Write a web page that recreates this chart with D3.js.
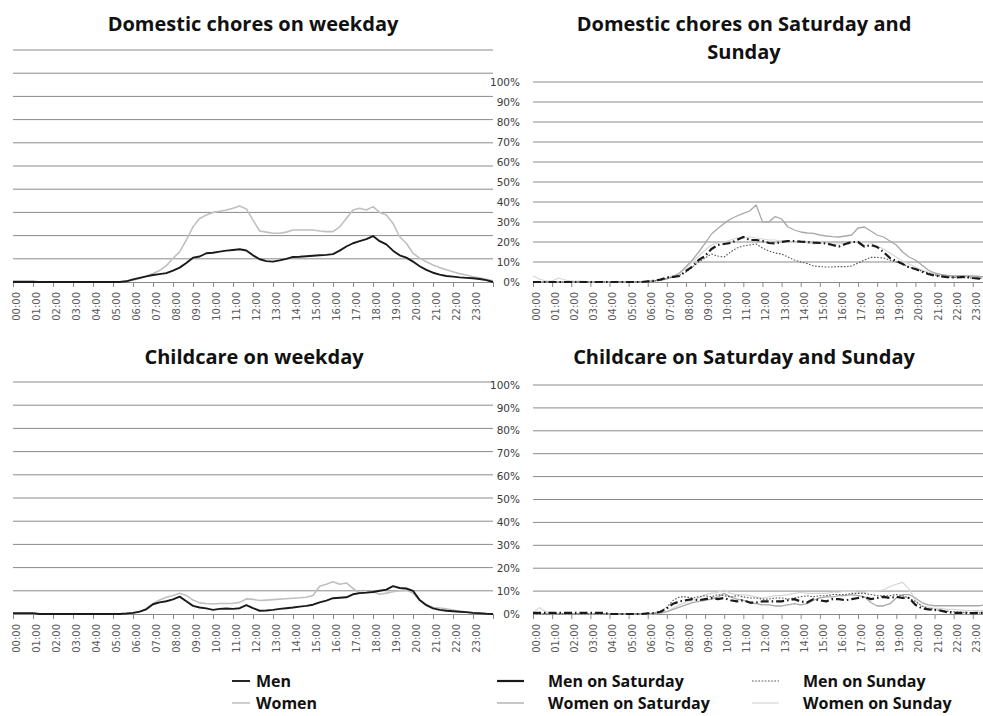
<!DOCTYPE html>
<html>
<head>
<meta charset="utf-8">
<script src="https://cdn.jsdelivr.net/npm/d3@7"></script>
<style>
  body { margin: 0; background: #fff; }
  svg { display: block; }
</style>
</head>
<body>
<svg id="chart" width="983" height="716"></svg>
<script>
// Time of day, one sample every 20 minutes
const slots = [
  "00:00","00:20","00:40","01:00","01:20","01:40","02:00","02:20","02:40",
  "03:00","03:20","03:40","04:00","04:20","04:40","05:00","05:20","05:40",
  "06:00","06:20","06:40","07:00","07:20","07:40","08:00","08:20","08:40",
  "09:00","09:20","09:40","10:00","10:20","10:40","11:00","11:20","11:40",
  "12:00","12:20","12:40","13:00","13:20","13:40","14:00","14:20","14:40",
  "15:00","15:20","15:40","16:00","16:20","16:40","17:00","17:20","17:40",
  "18:00","18:20","18:40","19:00","19:20","19:40","20:00","20:20","20:40",
  "21:00","21:20","21:40","22:00","22:20","22:40","23:00","23:20","23:40","24:00"
];

const hourLabels = [
  "00:00","01:00","02:00","03:00","04:00","05:00","06:00","07:00",
  "08:00","09:00","10:00","11:00","12:00","13:00","14:00","15:00",
  "16:00","17:00","18:00","19:00","20:00","21:00","22:00","23:00"
];

const percentTicks = [0, 10, 20, 30, 40, 50, 60, 70, 80, 90, 100];

// Share of people doing the activity (%), domestic chores, weekday
const choresWeekdayMen = [
  0,0,0, 0,0,0, 0,0,0, 0,0,0, 0,0,0, 0,0,0.3,
  1.1,1.8,2.4, 3.0,3.4,3.8, 4.9,6.2,8.2, 10.5,11.0,12.4,
  12.6,13.1,13.5, 13.8,14.1,13.6, 11.5,9.8,9.0, 8.8,9.3,10.0,
  10.8,10.9,11.1, 11.3,11.5,11.7, 12.0,13.5,15.3, 16.7,17.6,18.5,
  19.8,17.6,16.2, 13.5,11.5,10.5, 8.8,6.8,5.2, 4.0,3.2,2.6,
  2.3,2.0,1.8, 1.6,1.3,0.8, 0
];
const choresWeekdayWomen = [
  0.5,0.5,0.5, 0.5,0,0, 0,0,0, 0,0,0, 0,0,0, 0,0,0.3,
  0.8,1.5,2.5, 3.7,5.0,7.0, 10.2,13.0,18.1, 23.8,27.4,28.9,
  30.0,30.5,31.0, 31.8,32.8,31.5, 26.7,22.0,21.5, 21.0,21.0,21.5,
  22.4,22.4,22.4, 22.4,22.0,21.7, 21.7,23.8,27.4, 31.0,31.8,31.0,
  32.5,30.0,28.9, 25.3,19.5,16.7, 12.4,10.3,8.7, 7.3,6.2,5.3,
  4.4,3.6,3.0, 2.3,1.8,1.2, 0.5
];

// Domestic chores, weekend
const choresMenSaturday = [
  0,0,0, 0,0,0, 0,0,0, 0,0,0, 0,0,0, 0,0,0,
  0.3,0.6,1.2, 2.3,2.6,3.0, 5.5,7.7,11.0, 13.0,16.5,18.5,
  19.0,19.5,21.0, 22.5,21.0,21.0, 20.5,19.5,19.3, 20.0,20.5,20.5,
  20.2,20.0,19.7, 19.5,19.3,18.5, 17.7,19.0,20.0, 20.0,17.7,18.5,
  17.5,15.0,12.0, 10.5,9.0,7.3, 6.5,5.2,4.0, 3.2,2.8,2.4,
  2.3,2.4,2.6, 2.0,1.7,1.5, 1.0
];
const choresWomenSaturday = [
  0,0,0, 0,0,0, 0,0,0, 0,0,0, 0,0,0, 0,0,0,
  0.3,0.6,1.0, 1.5,2.5,4.5, 7.7,11.0,15.0, 19.3,24.0,26.8,
  29.3,31.5,33.0, 34.3,35.5,38.5, 30.2,30.0,32.7, 31.5,27.5,26.0,
  25.0,24.5,24.3, 23.5,23.0,22.7, 22.5,23.0,23.5, 27.0,27.5,25.5,
  23.5,22.5,20.5, 18.5,15.0,12.5, 11.0,8.5,6.0, 4.5,3.8,3.3,
  3.0,3.0,3.0, 3.0,2.8,2.5, 2.0
];
const choresMenSunday = [
  0,0,0, 0,0,0, 0,0,0, 0,0,0, 0,0,0, 0,0,0,
  0.3,0.5,1.0, 2.0,2.5,3.5, 5.0,7.5,10.0, 12.0,14.0,13.0,
  12.5,15.0,17.0, 18.0,18.5,19.0, 17.0,15.5,14.5, 14.0,12.5,11.0,
  10.0,9.3,8.0, 7.7,7.5,7.5, 7.7,7.7,8.0, 9.5,11.0,12.3,
  12.3,12.0,11.0, 10.0,9.0,7.5, 6.5,5.5,4.5, 3.5,3.0,2.5,
  2.3,2.2,2.2, 2.0,2.0,1.5, 1.0
];
const choresWomenSunday = [
  3.0,1.5,0.5, 0.5,2.0,1.0, 0.5,0.5,0.3, 0,0,0, 0,0,0, 0,0,0,
  0.3,0.6,1.2, 2.0,3.0,4.5, 7.0,10.0,13.0, 16.0,18.5,19.5,
  20.0,21.0,22.0, 22.0,22.5,22.0, 21.5,21.0,21.0, 20.5,20.5,20.0,
  20.0,19.5,19.0, 19.5,19.5,19.0, 19.0,19.5,20.0, 20.5,20.0,19.5,
  18.0,16.5,14.5, 12.5,10.5,9.0, 7.5,6.0,5.0, 4.0,3.5,3.2,
  3.0,3.0,2.8, 2.8,2.8,2.5, 2.5
];

// Childcare, weekday
const childcareWeekdayMen = [
  0.3,0.3,0.3, 0.3,0,0, 0,0,0, 0,0,0, 0,0,0, 0,0,0.2,
  0.5,1.0,2.0, 4.2,5.0,5.5, 6.3,7.5,5.5, 3.5,2.8,2.4,
  1.8,2.2,2.4, 2.2,2.5,3.8, 2.5,1.4,1.5, 1.8,2.2,2.5,
  2.8,3.2,3.5, 4.0,5.0,5.8, 6.8,7.0,7.2, 8.5,9.0,9.2,
  9.5,10.0,10.5, 12.0,11.2,11.0, 10.0,6.0,3.8, 2.4,1.8,1.4,
  1.2,1.0,0.8, 0.5,0.3,0.1, 0
];
const childcareWeekdayWomen = [
  0,0,0, 0,0,0, 0,0,0, 0,0,0, 0,0,0, 0,0,0.1,
  0.3,1.0,2.5, 4.5,6.0,7.2, 8.0,8.9,8.0, 6.0,4.8,4.5,
  4.3,4.5,4.5, 4.6,5.0,6.5, 6.3,5.8,6.0, 6.2,6.4,6.6,
  6.8,7.0,7.2, 8.0,12.0,12.8, 13.9,12.8,13.4, 11.0,9.0,9.2,
  9.6,8.5,9.0, 9.6,10.0,10.3, 9.0,6.0,4.0, 2.8,2.6,2.2,
  1.7,1.2,0.8, 0.5,0.2,0, 0
];

// Childcare, weekend
const childcareMenSaturday = [
  0.5,0.5,0.5, 0.5,0.5,0.5, 0.5,0.5,0.5, 0.5,0.5,0.5, 0,0,0, 0,0,0,
  0.3,0.4,1.0, 2.5,4.5,5.5, 6.0,6.5,6.0, 6.5,7.0,6.5,
  7.0,6.0,5.5, 6.0,5.0,5.0, 5.5,5.5,5.5, 5.5,6.0,6.5,
  5.5,5.0,6.5, 6.0,5.5,6.5, 6.5,6.0,6.5, 7.0,7.5,6.5,
  7.0,7.5,7.0, 7.5,7.0,7.0, 4.0,2.5,2.0, 1.8,1.5,0.8,
  0.5,0.5,0.5, 0.4,0.5,0.5, 0.5
];
const childcareWomenSaturday = [
  0,0,0, 0,0,0, 0,0,0, 0,0,0, 0,0,0, 0,0,0,
  0,0.2,0.5, 1.0,2.0,3.0, 4.0,5.0,5.5, 6.0,6.5,7.5,
  9.0,7.5,6.5, 6.0,5.0,4.5, 4.0,4.0,3.5, 3.5,4.0,4.5,
  4.0,4.5,6.0, 7.0,7.5,7.5, 8.0,8.0,8.5, 8.0,7.5,5.0,
  3.5,3.5,4.5, 7.0,8.5,8.5, 7.0,5.0,4.0, 3.6,3.6,3.6,
  3.6,3.6,3.6, 3.6,3.6,4.0, 4.5
];
const childcareMenSunday = [
  0,0,0, 0,0,0, 0,0,0, 0,0,0, 0,0,0, 0,0,0,
  0.2,0.3,1.0, 3.0,6.0,7.5, 7.5,7.0,7.5, 8.0,7.5,8.5,
  8.0,7.5,8.0, 7.5,7.0,7.0, 6.5,6.5,7.0, 7.0,6.5,7.0,
  7.5,8.0,7.5, 8.0,8.0,8.5, 8.5,8.5,9.0, 9.0,9.0,8.5,
  8.0,8.0,8.0, 8.5,8.0,7.0, 5.5,3.5,2.5, 2.0,1.5,1.2,
  1.0,0.8,0.6, 0.5,0.5,0.5, 0.5
];
const childcareWomenSunday = [
  0.5,2.8,1.0, 0.5,0.3,0.3, 0.3,0.2,0, 0,0,0, 0,0,0, 0,0,0,
  0,0,0.3, 1.0,2.5,4.0, 5.0,6.0,7.0, 8.5,9.0,9.5,
  10.5,9.0,8.5, 8.5,8.0,7.5, 7.0,7.5,8.0, 8.0,8.5,9.0,
  9.5,9.0,9.0, 9.0,9.0,9.5, 9.5,10.0,10.0, 9.5,9.5,10.0,
  10.0,10.5,12.0, 13.0,13.8,11.0, 6.0,3.5,3.0, 2.5,2.5,2.0,
  2.0,1.8,1.5, 1.5,1.5,1.5, 1.5
];

// Line styles per series
const styles = {
  men:      { stroke: "#1a1a1a", width: 1.9, dash: null },
  women:    { stroke: "#c0c0c0", width: 1.6, dash: null },
  menSat:   { stroke: "#1a1a1a", width: 2.2, dash: "8,3,1.5,3" },
  womenSat: { stroke: "#a8a8a8", width: 1.3, dash: null },
  menSun:   { stroke: "#555555", width: 1.1, dash: "1.6,1.6" },
  womenSun: { stroke: "#d6d6d6", width: 1.2, dash: null }
};

const hours = slots.map(s => { const [h, m] = s.split(":").map(Number); return h + m / 60; });

const panels = [
  { title: ["Domestic chores on weekday"], cx: 253, ty: 31,
    left: 13, right: 493, gridRight: 493, top: 50, bottom: 282, yLabels: false,
    series: [["women", choresWeekdayWomen], ["men", choresWeekdayMen]] },
  { title: ["Domestic chores on Saturday and", "Sunday"], cx: 744, ty: 31,
    left: 533, right: 533 + 24 * 19.12, gridRight: 983, top: 82, bottom: 282, yLabels: true,
    series: [["womenSun", choresWomenSunday], ["womenSat", choresWomenSaturday],
             ["menSun", choresMenSunday], ["menSat", choresMenSaturday]] },
  { title: ["Childcare on weekday"], cx: 254, ty: 364,
    left: 13, right: 493, gridRight: 493, top: 382, bottom: 614, yLabels: false,
    series: [["women", childcareWeekdayWomen], ["men", childcareWeekdayMen]] },
  { title: ["Childcare on Saturday and Sunday"], cx: 744, ty: 364,
    left: 533, right: 533 + 24 * 19.12, gridRight: 983, top: 385, bottom: 614, yLabels: true,
    series: [["womenSun", childcareWomenSunday], ["womenSat", childcareWomenSaturday],
             ["menSun", childcareMenSunday], ["menSat", childcareMenSaturday]] }
];

const svg = d3.select("#chart");
const gridColor = "#8a8a8a";

panels.forEach(p => {
  const g = svg.append("g");
  const x = d3.scaleLinear().domain([0, 24]).range([p.left, p.right]);
  const y = d3.scaleLinear().domain([0, 100]).range([p.bottom, p.top]);

  // title
  const t = g.append("text")
    .attr("x", p.cx).attr("y", p.ty)
    .attr("text-anchor", "middle")
    .style("font-family", "'Open Sans', sans-serif")
    .style("font-weight", 700).style("font-size", "20px").style("fill", "#111");
  p.title.forEach((line, i) => {
    t.append("tspan").attr("x", p.cx).attr("dy", i === 0 ? 0 : 28).text(line);
  });

  // horizontal gridlines
  g.selectAll("line.grid").data(percentTicks.slice(1)).join("line")
    .attr("class", "grid")
    .attr("x1", p.left).attr("x2", p.gridRight)
    .attr("y1", d => y(d)).attr("y2", d => y(d))
    .attr("stroke", gridColor).attr("stroke-width", 1);

  // percentage labels
  if (p.yLabels) {
    g.selectAll("text.ylab").data(percentTicks).join("text")
      .attr("class", "ylab")
      .attr("x", p.left - 13).attr("y", d => y(d)).attr("dy", "0.35em")
      .attr("text-anchor", "end")
      .style("font-family", "'DejaVu Sans', sans-serif")
      .style("font-size", "10.5px").style("fill", "#3a3a3a")
      .text(d => d + "%");
  }

  // time axis
  const axis = d3.axisBottom(x)
    .tickValues(d3.range(0, 25))
    .tickSize(5).tickSizeOuter(0)
    .tickFormat(i => i < 24 ? hourLabels[i] : "");
  const ax = g.append("g").attr("transform", `translate(0,${p.bottom})`).call(axis);
  ax.select(".domain").attr("stroke", gridColor).attr("stroke-width", 1);
  ax.selectAll(".tick line").attr("stroke", gridColor);
  ax.selectAll(".tick text")
    .attr("transform", "rotate(-90)")
    .attr("x", -10).attr("y", 3).attr("dy", "0.35em")
    .style("text-anchor", "end")
    .style("font-family", "'DejaVu Sans', sans-serif")
    .style("font-size", "10px").style("fill", "#5a5a5a");

  // series lines
  const line = d3.line().x(d => x(d[0])).y(d => y(d[1]));
  p.series.forEach(([key, values]) => {
    const s = styles[key];
    g.append("path")
      .datum(values.map((v, i) => [hours[i], v]))
      .attr("d", line)
      .attr("fill", "none")
      .attr("stroke", s.stroke)
      .attr("stroke-width", s.width)
      .attr("stroke-dasharray", s.dash)
      .attr("stroke-linejoin", "round");
  });
});

// legend
const legendItems = [
  { label: "Men", key: "men", x: 232, y: 681, solid: true },
  { label: "Women", key: "women", x: 232, y: 703, solid: true },
  { label: "Men on Saturday", key: "menSat", x: 497, y: 681, solid: true },
  { label: "Women on Saturday", key: "womenSat", x: 497, y: 703, solid: true },
  { label: "Men on Sunday", key: "menSun", x: 752, y: 681, solid: false },
  { label: "Women on Sunday", key: "womenSun", x: 752, y: 703, solid: true }
];
const leg = svg.append("g");
legendItems.forEach(it => {
  const s = styles[it.key];
  const w = it.key === "men" || it.key === "women" ? 18 : 27;
  leg.append("line")
    .attr("x1", it.x).attr("x2", it.x + w)
    .attr("y1", it.y).attr("y2", it.y)
    .attr("stroke", s.stroke).attr("stroke-width", s.width)
    .attr("stroke-dasharray", it.solid ? null : s.dash);
  leg.append("text")
    .attr("x", it.x + (w === 18 ? 24 : 51)).attr("y", it.y).attr("dy", "0.36em")
    .style("font-family", "'Open Sans', sans-serif")
    .style("font-weight", 700).style("font-size", "16px").style("fill", "#111")
    .text(it.label);
});
</script>
</body>
</html>
